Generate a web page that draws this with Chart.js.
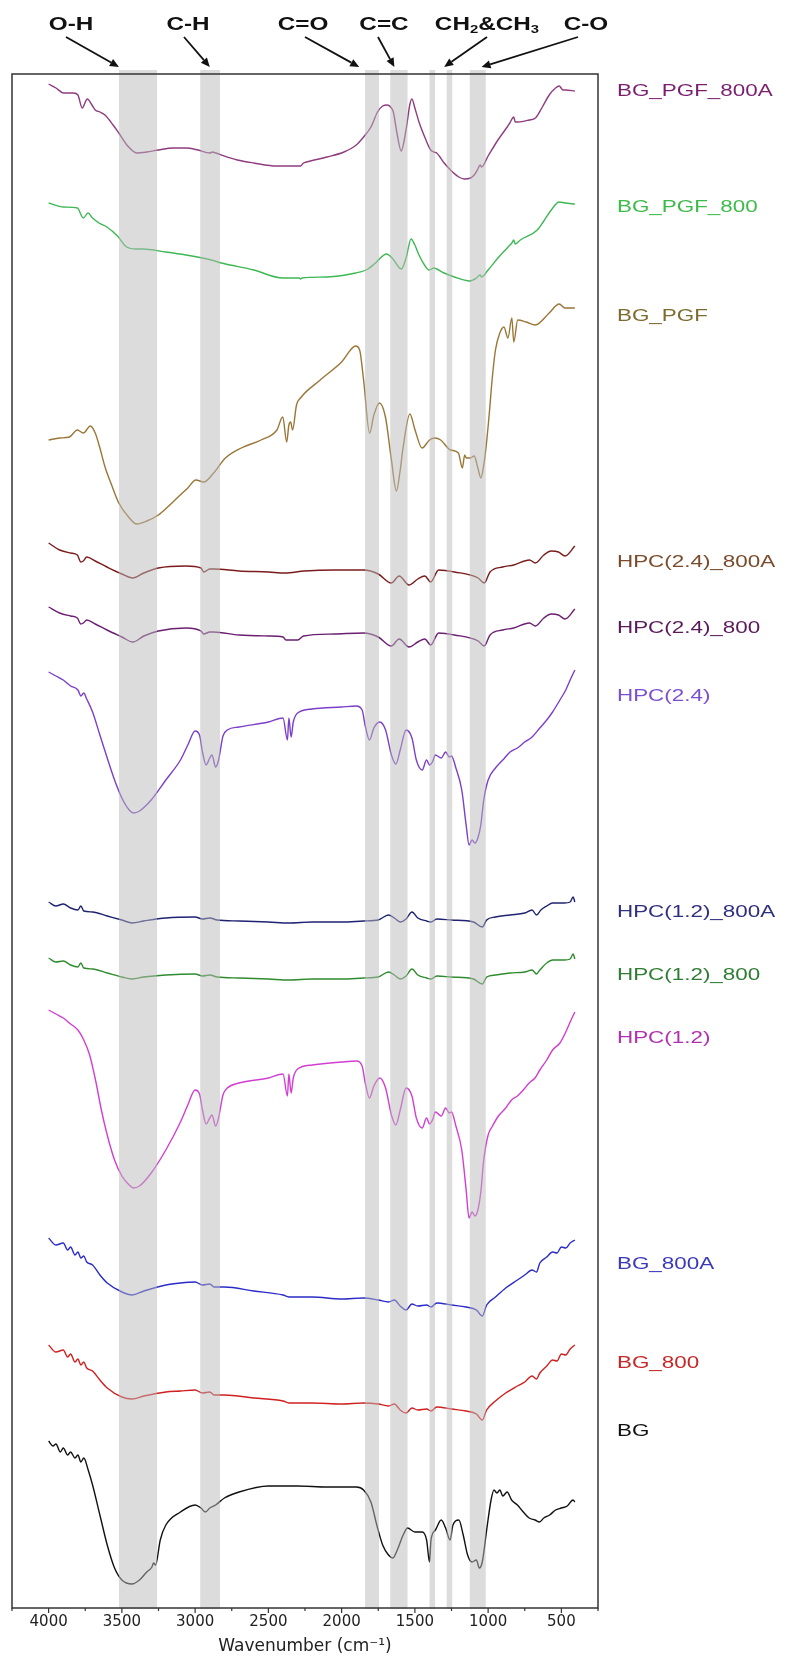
<!DOCTYPE html>
<html><head><meta charset="utf-8">
<script src="https://cdn.jsdelivr.net/npm/chart.js@4.4.1/dist/chart.umd.min.js"></script>
<style>html,body{margin:0;padding:0;background:#fff}#wrap{width:791px;height:1661px;position:relative}</style>
</head><body><div id="wrap"><canvas id="c"></canvas></div>
<script>
// ---- spectra: [wavenumber (cm-1), transmittance (a.u., stacked)] ----
const BG_PGF_800A = [[4000,152.4],[3950,152.0],[3898,151.5],[3831,151.5],[3800,151.3],[3771,150.0],[3736,150.9],[3700,150.2],[3682,149.8],[3650,149.6],[3615,149.3],[3560,148.3],[3521,147.5],[3460,146.2],[3399,145.5],[3330,145.6],[3251,145.8],[3150,146.0],[3062,146.0],[2980,145.8],[2901,145.5],[2880,145.6],[2860,145.5],[2712,144.8],[2600,144.5],[2442,144.2],[2300,144.2],[2281,144.2],[2260,144.5],[2240,144.6],[2100,145.1],[1984,145.6],[1900,146.3],[1850,147.1],[1800,148.1],[1755,149.6],[1720,150.2],[1688,150.3],[1660,150.0],[1647,149.6],[1620,147.3],[1593,145.7],[1570,147.0],[1553,148.5],[1535,150.3],[1520,150.9],[1500,150.0],[1472,148.6],[1430,147.0],[1392,145.8],[1370,145.6],[1351,145.5],[1300,144.5],[1257,143.8],[1200,143.1],[1162,142.9],[1120,143.0],[1095,143.3],[1070,143.9],[1055,144.3],[1045,144.1],[1000,145.2],[933,146.8],[870,148.1],[852,148.5],[825,149.1],[815,148.6],[798,148.6],[720,148.8],[677,149.0],[630,150.1],[583,151.3],[540,152.0],[515,152.2],[489,151.8],[470,151.8],[408,151.7]];
const BG_PGF_800 = [[4000,140.5],[3898,140.1],[3804,140.0],[3763,139.0],[3731,139.5],[3700,139.0],[3656,138.5],[3602,138.1],[3530,137.2],[3467,136.1],[3400,135.9],[3359,135.9],[3200,135.6],[3062,135.3],[2950,135.0],[2890,134.8],[2820,134.5],[2600,133.8],[2402,133.0],[2290,133.0],[2281,132.9],[2270,133.0],[2100,133.1],[1904,133.5],[1820,133.9],[1769,134.5],[1693,135.4],[1650,134.9],[1593,133.9],[1560,135.0],[1526,136.9],[1500,136.3],[1472,135.3],[1430,134.2],[1404,133.8],[1370,134.0],[1351,133.9],[1300,133.5],[1230,133.1],[1127,132.7],[1080,133.0],[1055,133.3],[1045,133.1],[1000,133.8],[933,135.0],[870,136.0],[838,136.5],[825,136.8],[815,136.4],[780,136.8],[664,137.8],[620,138.7],[569,139.8],[515,140.6],[476,140.5],[408,140.4]];
const BG_PGF = [[4000,116.8],[3925,117.0],[3858,117.1],[3804,117.8],[3763,117.5],[3715,118.2],[3682,117.5],[3650,116.0],[3615,114.1],[3570,112.3],[3521,110.5],[3460,109.2],[3399,108.4],[3330,108.7],[3251,109.3],[3180,110.2],[3116,111.1],[3050,112.0],[2995,112.8],[2941,112.6],[2874,113.5],[2793,115.0],[2685,116.0],[2550,116.8],[2442,117.8],[2402,119.1],[2375,116.6],[2360,118.3],[2348,118.6],[2335,117.8],[2308,120.3],[2281,121.0],[2146,122.8],[2000,124.6],[1904,126.2],[1877,125.8],[1850,122.8],[1809,117.5],[1780,119.3],[1742,120.5],[1701,119.1],[1660,114.8],[1626,111.7],[1600,113.8],[1580,116.1],[1534,119.4],[1499,117.8],[1451,116.0],[1400,116.8],[1364,117.0],[1324,116.8],[1257,115.8],[1203,115.5],[1176,114.0],[1160,115.3],[1149,115.0],[1122,115.0],[1095,115.2],[1070,114.0],[1049,113.0],[1030,114.3],[1014,116.1],[990,119.8],[973,122.8],[950,125.8],[920,127.5],[892,128.1],[865,127.0],[838,129.0],[825,126.6],[798,128.8],[740,128.6],[677,128.3],[583,129.5],[515,130.4],[476,130.0],[408,130.0]];
const HPC24_800A = [[4000,106.5],[3925,105.8],[3850,105.5],[3804,105.3],[3780,104.6],[3763,104.7],[3740,105.1],[3682,104.7],[3602,104.1],[3500,103.4],[3426,103.0],[3350,103.5],[3251,104.0],[3062,104.2],[2960,104.0],[2941,103.6],[2900,103.9],[2874,103.9],[2700,103.7],[2500,103.6],[2389,103.5],[2254,103.7],[2050,103.8],[1850,103.8],[1750,103.4],[1661,102.5],[1607,103.2],[1540,102.3],[1480,102.9],[1432,103.2],[1392,102.6],[1338,103.8],[1230,103.6],[1068,103.0],[1027,102.5],[987,103.6],[900,104.1],[825,104.3],[718,104.8],[677,104.5],[620,105.3],[569,105.7],[520,105.6],[475,105.2],[408,106.2]];
const HPC24_800 = [[4000,100.1],[3925,99.5],[3850,99.2],[3804,99.0],[3780,98.4],[3763,98.5],[3740,98.8],[3682,98.4],[3602,97.8],[3500,97.1],[3426,96.6],[3350,97.2],[3251,97.7],[3062,98.0],[2960,97.7],[2941,97.4],[2900,97.6],[2874,97.6],[2700,97.3],[2500,97.2],[2400,97.1],[2380,96.8],[2300,96.8],[2260,97.2],[2050,97.4],[1850,97.5],[1750,97.1],[1661,96.2],[1607,96.9],[1540,96.1],[1480,96.6],[1432,96.9],[1392,96.3],[1338,97.5],[1230,97.3],[1068,96.7],[1027,96.2],[987,97.3],[900,97.8],[825,98.0],[718,98.5],[677,98.2],[620,99.0],[569,99.4],[520,99.3],[475,98.9],[408,99.9]];
const HPC24 = [[4000,93.6],[3950,93.2],[3900,92.8],[3850,92.2],[3800,91.8],[3780,91.2],[3760,91.5],[3740,90.9],[3700,89.6],[3650,87.3],[3600,85.0],[3550,82.8],[3500,81.0],[3450,79.8],[3420,79.5],[3380,79.7],[3300,80.8],[3200,82.8],[3100,84.8],[3050,86.3],[3000,87.7],[2970,87.3],[2950,85.6],[2925,84.3],[2900,85.0],[2885,85.3],[2860,84.1],[2840,84.8],[2810,87.2],[2780,87.8],[2700,88.1],[2500,88.6],[2400,89.0],[2370,86.8],[2360,89.0],[2345,87.1],[2330,88.6],[2300,89.5],[2200,89.9],[2000,90.1],[1900,90.2],[1860,89.8],[1840,88.3],[1810,86.8],[1780,88.0],[1740,88.6],[1700,87.8],[1660,85.3],[1630,84.4],[1600,85.8],[1560,87.8],[1520,87.0],[1490,84.8],[1450,83.8],[1420,84.8],[1400,84.3],[1380,84.6],[1360,85.3],[1320,85.0],[1290,85.6],[1265,85.1],[1250,85.2],[1220,84.0],[1180,81.8],[1150,78.3],[1130,76.3],[1110,76.8],[1090,76.5],[1070,77.0],[1050,78.3],[1030,80.8],[1000,82.8],[950,84.0],[900,84.8],[850,85.6],[800,86.0],[750,86.6],[700,87.1],[647,88.0],[600,88.8],[560,89.6],[510,90.8],[470,91.8],[440,92.8],[408,93.8]];
const HPC12_800A = [[4000,70.6],[3950,70.2],[3900,70.4],[3850,70.0],[3800,69.8],[3780,70.2],[3760,69.7],[3700,69.6],[3600,69.2],[3500,68.8],[3430,68.5],[3350,68.7],[3200,69.0],[3000,69.1],[2950,68.9],[2900,69.0],[2850,68.8],[2700,68.7],[2500,68.6],[2360,68.5],[2200,68.6],[2000,68.6],[1850,68.7],[1750,68.8],[1680,69.3],[1640,69.0],[1600,68.6],[1560,68.9],[1520,69.6],[1480,69.0],[1420,68.7],[1390,68.6],[1350,68.9],[1250,68.8],[1100,68.6],[1040,68.1],[1010,68.8],[950,69.1],[850,69.3],[750,69.5],[700,69.8],[670,69.3],[640,69.8],[600,70.2],[560,70.5],[520,70.5],[480,70.5],[440,70.6],[420,71.1],[408,70.6]];
const HPC12_800 = [[4000,65.0],[3950,64.6],[3900,64.7],[3850,64.3],[3800,64.1],[3780,64.5],[3760,64.0],[3700,63.9],[3600,63.5],[3500,63.1],[3430,62.9],[3350,63.1],[3200,63.3],[3000,63.4],[2950,63.2],[2900,63.3],[2850,63.1],[2700,63.0],[2500,62.9],[2360,62.8],[2200,62.9],[2000,62.9],[1850,63.0],[1750,63.1],[1680,63.6],[1640,63.3],[1600,62.9],[1560,63.2],[1520,63.9],[1480,63.3],[1420,63.0],[1390,62.9],[1350,63.2],[1250,63.1],[1100,62.9],[1040,62.4],[1010,63.1],[950,63.3],[850,63.5],[750,63.6],[700,63.8],[670,63.4],[647,63.8],[600,64.5],[558,64.8],[520,64.8],[480,64.8],[440,64.9],[420,65.4],[408,64.9]];
const HPC12 = [[4000,59.8],[3950,59.4],[3900,59.0],[3850,58.4],[3800,57.8],[3760,56.8],[3720,55.3],[3680,52.8],[3640,49.8],[3600,47.3],[3550,44.8],[3500,43.2],[3450,42.3],[3420,42.0],[3380,42.2],[3300,43.5],[3200,45.8],[3100,48.6],[3050,50.3],[3000,51.8],[2970,51.4],[2950,49.8],[2925,48.4],[2900,49.0],[2885,49.3],[2860,48.2],[2840,49.0],[2810,51.3],[2780,52.0],[2700,52.5],[2500,53.0],[2400,53.4],[2370,51.2],[2360,53.4],[2345,51.5],[2330,53.0],[2300,53.9],[2200,54.3],[2000,54.6],[1900,54.7],[1860,54.2],[1840,52.6],[1810,51.0],[1780,52.2],[1740,53.0],[1700,52.0],[1660,49.3],[1630,48.3],[1600,49.8],[1560,52.0],[1520,51.2],[1490,49.0],[1450,48.0],[1420,49.0],[1400,48.4],[1380,48.8],[1360,49.6],[1320,49.2],[1290,50.0],[1265,49.5],[1250,49.6],[1220,48.2],[1180,45.8],[1150,41.8],[1130,39.0],[1110,39.6],[1090,39.2],[1070,39.8],[1050,41.6],[1030,44.8],[1000,47.3],[970,48.2],[930,49.2],[880,50.0],[840,50.8],[800,51.2],[760,51.8],[720,52.5],[680,53.0],[647,53.8],[600,54.8],[560,55.8],[510,56.5],[470,57.6],[440,58.6],[408,59.6]];
const BG_800A = [[4000,37.0],[3950,36.3],[3900,36.5],[3870,35.8],[3850,36.1],[3820,35.3],[3800,35.6],[3780,35.0],[3760,35.2],[3740,34.6],[3700,34.3],[3650,33.3],[3600,32.5],[3500,31.6],[3430,31.3],[3350,31.7],[3200,32.3],[3100,32.5],[3000,32.6],[2950,32.3],[2900,32.4],[2870,32.1],[2800,32.1],[2600,31.7],[2400,31.3],[2360,31.1],[2200,31.1],[2000,30.9],[1850,31.0],[1750,30.8],[1680,30.6],[1640,30.8],[1600,30.2],[1560,29.8],[1520,30.4],[1480,30.2],[1420,30.3],[1390,30.1],[1350,30.5],[1250,30.3],[1150,30.1],[1080,29.8],[1040,29.2],[1010,30.3],[950,31.1],[880,32.0],[800,32.8],[750,33.3],[700,33.8],[670,33.6],[647,34.5],[600,35.1],[560,35.6],[530,35.5],[500,36.1],[470,36.0],[440,36.5],[408,36.8]];
const BG_800 = [[4000,26.3],[3950,25.6],[3900,25.8],[3870,25.1],[3850,25.4],[3820,24.6],[3800,24.9],[3780,24.3],[3760,24.6],[3740,24.0],[3700,23.7],[3650,22.8],[3600,22.0],[3500,21.1],[3430,20.9],[3350,21.2],[3200,21.6],[3100,21.7],[3000,21.8],[2950,21.5],[2900,21.6],[2870,21.3],[2800,21.3],[2600,21.0],[2400,20.7],[2360,20.5],[2200,20.5],[2000,20.4],[1850,20.5],[1750,20.4],[1680,20.2],[1640,20.4],[1600,19.8],[1560,19.5],[1520,20.0],[1480,19.8],[1420,19.9],[1390,19.7],[1350,20.1],[1250,19.9],[1150,19.7],[1080,19.4],[1040,18.8],[1010,19.8],[950,20.7],[880,21.5],[800,22.2],[750,22.6],[700,23.2],[670,22.9],[647,23.5],[600,24.2],[560,24.8],[530,24.7],[500,25.4],[470,25.3],[440,25.9],[408,26.3]];
const BG = [[4000,16.7],[3970,16.2],[3950,16.4],[3920,15.6],[3900,16.0],[3870,15.3],[3850,15.6],[3820,15.0],[3800,15.3],[3780,14.6],[3760,15.0],[3730,13.8],[3700,12.3],[3650,9.3],[3600,6.3],[3550,4.0],[3500,2.8],[3430,2.4],[3380,2.8],[3330,3.6],[3295,4.1],[3284,4.5],[3270,4.3],[3238,6.8],[3200,8.3],[3100,9.6],[3000,10.3],[2960,10.0],[2930,9.6],[2900,10.0],[2860,10.3],[2800,11.0],[2700,11.6],[2500,12.2],[2300,12.2],[2100,12.1],[1900,12.1],[1850,11.8],[1800,10.6],[1760,8.3],[1720,6.3],[1680,5.3],[1650,5.0],[1620,5.8],[1580,7.3],[1550,8.0],[1500,7.6],[1450,7.6],[1420,6.8],[1400,4.6],[1390,6.8],[1360,7.8],[1320,8.8],[1290,8.0],[1260,6.8],[1240,8.3],[1200,8.8],[1170,7.3],[1140,5.3],[1110,4.6],[1080,4.8],[1060,4.0],[1040,4.6],[1010,7.8],[980,10.8],[960,11.8],[940,11.5],[920,11.8],[900,11.2],[870,11.6],[840,10.8],[800,10.3],[760,9.6],[720,9.0],[680,8.8],[650,8.6],[620,9.0],[580,9.3],[540,9.8],[500,10.0],[460,10.2],[420,10.8],[408,10.6]];

const seriesNames = ['BG_PGF_800A','BG_PGF_800','BG_PGF','HPC(2.4)_800A','HPC(2.4)_800','HPC(2.4)','HPC(1.2)_800A','HPC(1.2)_800','HPC(1.2)','BG_800A','BG_800','BG'];
const seriesData = [BG_PGF_800A, BG_PGF_800, BG_PGF, HPC24_800A, HPC24_800, HPC24, HPC12_800A, HPC12_800, HPC12, BG_800A, BG_800, BG];
const lineColors = ['#8e3b7f','#3db853','#9a7636','#7a1c1c','#6a1f70','#7b3fc9','#1e2270','#2e8b2e','#d23ed2','#2b2bc8','#d02020','#111111'];
const labelColors = ['#7a1f6e','#3dbb4a','#7d6a2e','#7a4a2a','#5a1a5a','#7a4fd0','#2f2f80','#2e7d32','#b030b0','#3a3ab8','#c62828','#111111'];
const labelLevel = [151.6,140.0,129.1,104.5,97.9,91.1,69.5,63.2,56.9,34.3,24.4,17.6];

// ---- functional-group bands ----
const bandFrom = [3520,2965,1840,1668,1400,1283,1125];
const bandTo   = [3260,2830,1745,1550,1362,1245,1016];
const groupText = ['O-H','C-H','C=O','C=C','CH2&CH3','C-O'];
const groupArrowWn = [3520,2900,1880,1640,1300,1045];

// ---- x ticks ----
const xMin = 250, xMax = 4250, xStep = 250, xLabelStep = 500;

// ---- layout (pixels) ----
const groupTextX = [71,188,303,384,487,586];
const groupTailX = [66,184,305,378,487,578];
const SX = 1.35;

function sText(ctx, txt, x, y, sx, align){
  ctx.save(); ctx.translate(x,y); ctx.scale(sx,1); ctx.textAlign=align; ctx.fillText(txt,0,0); ctx.restore();
}

const decor = {
  id:'decor',
  beforeDraw(chart){
    const c=chart.ctx; c.save(); c.fillStyle='#fff'; c.fillRect(0,0,chart.width,chart.height); c.restore();
  },
  afterDatasetsDraw(chart){
    const c=chart.ctx, a=chart.chartArea, xs=chart.scales.x, ys=chart.scales.y;
    c.save();
    c.fillStyle='rgba(185,185,185,0.5)';
    for(let i=0;i<bandFrom.length;i++){
      const x1=xs.getPixelForValue(bandFrom[i]), x2=xs.getPixelForValue(bandTo[i]);
      c.fillRect(x1, a.top-4, x2-x1, a.bottom-a.top+5);
    }
    c.strokeStyle='#333'; c.lineWidth=1.5;
    c.strokeRect(a.left, a.top, a.right-a.left, a.bottom-a.top);
    c.lineWidth=1.2;
    for(let v=xMin; v<=xMax; v+=xStep){
      const x=xs.getPixelForValue(v), len=(v%xLabelStep===0)?5:3;
      c.beginPath(); c.moveTo(x,a.bottom); c.lineTo(x,a.bottom+len); c.stroke();
    }
    c.font='16px "Liberation Sans", Arial, sans-serif'; c.textBaseline='middle';
    for(let i=0;i<seriesNames.length;i++){
      c.fillStyle=labelColors[i];
      sText(c, seriesNames[i], a.right+19, ys.getPixelForValue(labelLevel[i]), 1.4, 'left');
    }
    c.fillStyle='#111'; c.strokeStyle='#111';
    for(let i=0;i<groupText.length;i++){
      const cx=groupTextX[i], cy=25;
      if(groupText[i]==='CH2&CH3'){
        const segs=[['CH',0],['2',1],['&CH',0],['3',1]];
        let w=0;
        segs.forEach(s=>{c.font=s[1]?'bold 11px "Liberation Sans", Arial':'bold 18px "Liberation Sans", Arial'; w+=c.measureText(s[0]).width;});
        let x=cx-w*SX/2;
        segs.forEach(s=>{
          c.font=s[1]?'bold 11px "Liberation Sans", Arial':'bold 18px "Liberation Sans", Arial';
          const sw=c.measureText(s[0]).width;
          sText(c, s[0], x, cy+(s[1]?5:0), SX, 'left'); x+=sw*SX;
        });
      } else {
        c.font='bold 18px "Liberation Sans", Arial, sans-serif';
        sText(c, groupText[i], cx, cy, SX, 'center');
      }
      const tx=xs.getPixelForValue(groupArrowWn[i]), ty=a.top-7, sx0=groupTailX[i], sy0=37;
      const ang=Math.atan2(ty-sy0, tx-sx0), L=9, W=4;
      const bx=tx-L*Math.cos(ang), by=ty-L*Math.sin(ang);
      c.lineWidth=1.8; c.beginPath(); c.moveTo(sx0,sy0); c.lineTo(bx,by); c.stroke();
      c.beginPath(); c.moveTo(tx,ty);
      c.lineTo(bx+W*Math.sin(ang), by-W*Math.cos(ang));
      c.lineTo(bx-W*Math.sin(ang), by+W*Math.cos(ang));
      c.closePath(); c.fill();
    }
    c.restore();
  }
};

new Chart(document.getElementById('c'), {
  type:'line',
  data:{ datasets: seriesData.map((d,i)=>({
    label: seriesNames[i],
    data: d.map(p=>({x:p[0], y:p[1]})),
    borderColor: lineColors[i], borderWidth:1.4, pointRadius:0, fill:false,
    cubicInterpolationMode:'monotone'
  }))},
  options:{
    responsive:true, maintainAspectRatio:false, animation:false,
    layout:{padding:{left:12, right:193, top:74, bottom:0}},
    plugins:{legend:{display:false}, tooltip:{enabled:false}},
    scales:{
      x:{ type:'linear', reverse:true, min:xMin, max:xMax,
          ticks:{stepSize:xStep, autoSkip:false, maxRotation:0, padding:5, color:'#222',
                 font:{family:'DejaVu Sans', size:15},
                 callback:(v)=> (v%xLabelStep===0 && v>=500 && v<=4000) ? String(v) : ''},
          grid:{display:false, drawTicks:false}, border:{display:false},
          title:{display:true, text:'Wavenumber (cm\u207B\u00B9)', color:'#222',
                 font:{family:'DejaVu Sans', size:17}, padding:{top:0, bottom:4}},
          afterFit:(ax)=>{ ax.height = 53; } },
      y:{ display:false, min:0, max:153.4 }
    }
  },
  plugins:[decor]
});
</script>
</body></html>
